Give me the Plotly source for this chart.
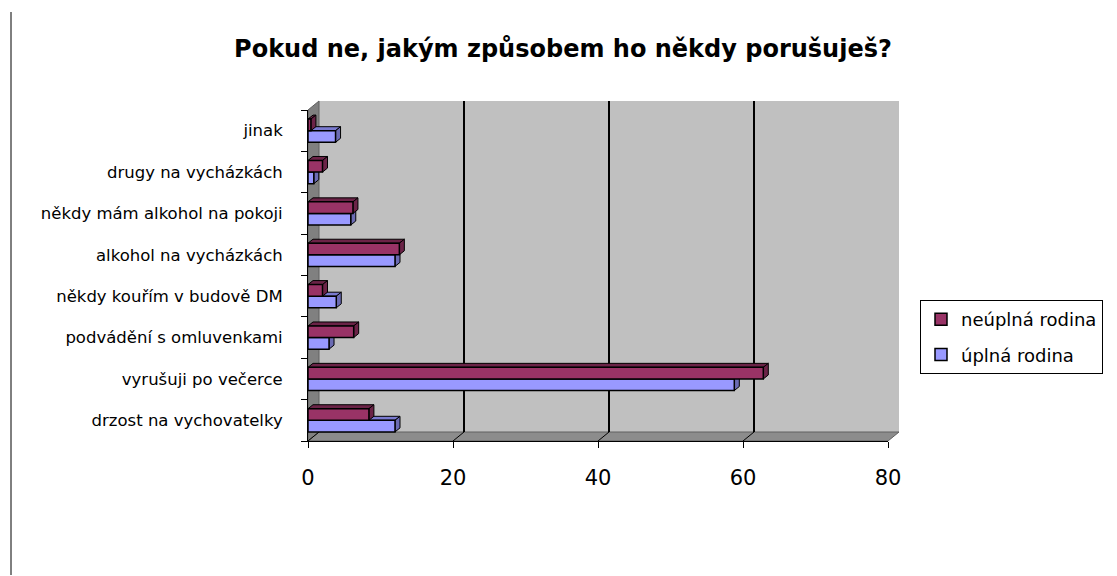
import plotly.graph_objects as go

# ---- data ----
categories = ["drzost na vychovatelky", "vyrušuji po večerce", "podvádění s omluvenkami",
              "někdy kouřím v budově DM", "alkohol na vycházkách", "někdy mám alkohol na pokoji",
              "drugy na vycházkách", "jinak"]
uplna = [12.0, 58.8, 2.9, 3.9, 12.0, 5.9, 0.8, 3.8]
neuplna = [8.4, 62.8, 6.3, 2.0, 12.6, 6.2, 2.0, 0.4]
series_names = ["úplná rodina", "neúplná rodina"]
x_ticks = [0, 20, 40, 60, 80]
title_text = "Pokud ne, jakým způsobem ho někdy porušuješ?"

# ---- geometry (pixels in the screenshot; page body adds an 8px offset) ----
OFF = 8
W, H = 1117, 576
L, R, T, B = 308 - OFF, 888 - OFF, 110 - OFF, 441 - OFF
DX, DY = 11, 9          # wall depth
BDX, BDY = 5, 4         # bar depth
XMAX = 80
BARGAP = 0.44
w = (1 - BARGAP) / 2
ddx = BDX * XMAX / (R - L)
ddy = BDY * len(categories) / (B - T)


def px(x):
    return (x - OFF - L) / (R - L)


def py(y):
    return (B - (y - OFF)) / (B - T)


FONT = "'DejaVu Sans', Arial, sans-serif"
C_N, C_U = "#993366", "#9999FF"
C_N_DARK, C_U_DARK, C_U_TOP = "#6b2347", "#6b6bb3", "#7a7ad0"

ypos = list(range(len(categories)))

fig = go.Figure()
fig.add_trace(go.Bar(y=ypos, x=uplna, orientation="h", name=series_names[0],
                     marker=dict(color=C_U, line=dict(color="black", width=1.5)),
                     legendgroup="g2", legendrank=2))
fig.add_trace(go.Bar(y=ypos, x=neuplna, orientation="h", name=series_names[1],
                     marker=dict(color=C_N, line=dict(color="black", width=1.5)),
                     legendgroup="g1", legendrank=1))

bL, bR, bT, bB = L + OFF, R + OFF, T + OFF, B + OFF   # screenshot coordinates

shapes = []
# back wall
shapes.append(dict(type="rect", xref="paper", yref="paper", layer="below",
                   x0=px(bL + DX), x1=px(bR + DX), y0=py(bB - DY), y1=py(bT - DY),
                   fillcolor="#C0C0C0", line=dict(width=0)))
# left wall
shapes.append(dict(type="path", xref="paper", yref="paper", layer="below",
                   path=f"M {px(bL)},{py(bB)} L {px(bL)},{py(bT)} L {px(bL+DX)},{py(bT-DY)} L {px(bL+DX)},{py(bB-DY)} Z",
                   fillcolor="#808080", line=dict(color="#606060", width=1)))
# floor
shapes.append(dict(type="path", xref="paper", yref="paper", layer="below",
                   path=f"M {px(bL)},{py(bB)} L {px(bL+DX)},{py(bB-DY)} L {px(bR+DX)},{py(bB-DY)} L {px(bR)},{py(bB)} Z",
                   fillcolor="#8c8c8c", line=dict(color="#606060", width=1)))
# gridlines on back wall + slanted ticks on floor
for v in x_ticks:
    if v > 0:
        shapes.append(dict(type="line", xref="x", yref="paper", layer="below",
                           xsizemode="pixel", xanchor=v, x0=DX, x1=DX,
                           y0=py(bB - DY), y1=py(bT - DY),
                           line=dict(color="black", width=2)))
    shapes.append(dict(type="path", xref="x", yref="paper", layer="below",
                       xsizemode="pixel", xanchor=v,
                       path=f"M 0,{py(bB)} L {DX},{py(bB-DY)}",
                       line=dict(color="black", width=1)))

# 3D faces of bars
for i, (vu, vn) in enumerate(zip(uplna, neuplna)):
    shapes.append(dict(type="path", xref="x", yref="y", layer="between",
                       path=f"M 0,{i} L {vu},{i} L {vu+ddx},{i+ddy} L {ddx},{i+ddy} Z",
                       fillcolor=C_U_TOP, line=dict(color="black", width=1)))
    shapes.append(dict(type="path", xref="x", yref="y", layer="between",
                       path=f"M {vu},{i-w} L {vu+ddx},{i-w+ddy} L {vu+ddx},{i+ddy} L {vu},{i} Z",
                       fillcolor=C_U_DARK, line=dict(color="black", width=1)))
    shapes.append(dict(type="path", xref="x", yref="y", layer="between",
                       path=f"M 0,{i+w} L {vn},{i+w} L {vn+ddx},{i+w+ddy} L {ddx},{i+w+ddy} Z",
                       fillcolor=C_N_DARK, line=dict(color="black", width=1)))
    shapes.append(dict(type="path", xref="x", yref="y", layer="between",
                       path=f"M {vn},{i} L {vn+ddx},{i+ddy} L {vn+ddx},{i+w+ddy} L {vn},{i+w} Z",
                       fillcolor=C_N_DARK, line=dict(color="black", width=1)))

# left border line of the page
shapes.append(dict(type="line", xref="paper", yref="paper", layer="above",
                   x0=px(11), x1=px(11), y0=py(12), y1=py(575),
                   line=dict(color="black", width=1)))

fig.update_layout(
    width=W, height=H,
    margin=dict(l=L, r=W - R, t=T, b=H - B, pad=0, autoexpand=False),
    paper_bgcolor="white", plot_bgcolor="rgba(0,0,0,0)",
    barmode="group", bargap=BARGAP, bargroupgap=0,
    font=dict(family=FONT, color="black"),
    title=dict(text=f"<b>{title_text}</b>", font=dict(size=24, family=FONT, color="black"),
               x=px(563), xref="paper", xanchor="center",
               y=1 - (49 - OFF) / H, yref="container", yanchor="middle"),
    xaxis=dict(range=[0, XMAX], tickvals=x_ticks, showgrid=False, zeroline=False,
               showline=True, linecolor="black", linewidth=1, automargin=False,
               ticks="outside", ticklen=6, tickcolor="black",
               tickfont=dict(size=21, family=FONT), ticklabelstandoff=12),
    yaxis=dict(range=[-0.5, len(categories) - 0.5], tickvals=ypos, ticktext=categories,
               showgrid=False, zeroline=False, showline=True, linecolor="black", linewidth=1,
               automargin=False, ticks="", tickfont=dict(size=16.5, family=FONT),
               ticklabelstandoff=21,
               minor=dict(tickvals=[i - 0.5 for i in range(len(categories) + 1)],
                          ticks="outside", ticklen=6, tickcolor="black", showgrid=False)),
    legend=dict(x=px(920), xanchor="left", y=py(300), yanchor="top",
                bordercolor="black", borderwidth=1, bgcolor="white",
                font=dict(size=18, family=FONT), traceorder="grouped",
                tracegroupgap=9, itemwidth=30),
    shapes=shapes,
    showlegend=True,
)

fig.write_html("out.html")
